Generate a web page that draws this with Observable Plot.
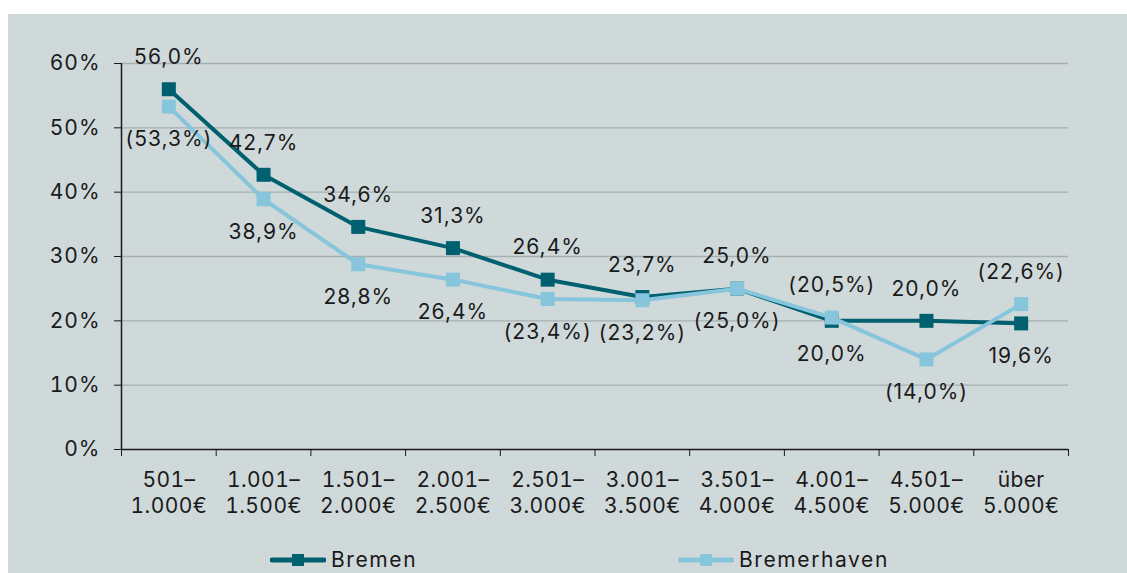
<!DOCTYPE html>
<html>
<head>
<meta charset="utf-8">
<script src="https://cdn.jsdelivr.net/npm/d3@7"></script>
<script src="https://cdn.jsdelivr.net/npm/@observablehq/plot@0.6"></script>
<style>
  html, body { margin: 0; padding: 0; background: #ffffff; }
  #panel {
    position: absolute; left: 8px; top: 14px;
    width: 1119px; height: 559px;
    background: #d0d9da;
    font-family: Inter, "Noto Sans", sans-serif;
    color: #1a1a1a;
    overflow: hidden;
  }
  #chart svg { display: block; }
  #chart svg text { letter-spacing: 1px; }
  #chart svg g[aria-label="x-axis tick label"] text { letter-spacing: 0.4px; }
  .legend-item {
    position: absolute; top: 537px;
    display: flex; align-items: center;
    font-size: 21px; line-height: 18px; letter-spacing: 1.6px;
  }
  .legend-item svg { margin-right: 5px; }
</style>
</head>
<body>
<div id="panel">
  <div id="chart"></div>
  <div class="legend-item" id="lg-bremen"></div>
  <div class="legend-item" id="lg-bremerhaven"></div>
</div>
<script>
// Income brackets (net household income per month)
const categories = [
  "501–\n1.000€", "1.001–\n1.500€", "1.501–\n2.000€", "2.001–\n2.500€", "2.501–\n3.000€",
  "3.001–\n3.500€", "3.501–\n4.000€", "4.001–\n4.500€", "4.501–\n5.000€", "über\n5.000€"
];

// Shares in percent
const bremen      = [56.0, 42.7, 34.6, 31.3, 26.4, 23.7, 25.0, 20.0, 20.0, 19.6];
const bremerhaven = [53.3, 38.9, 28.8, 26.4, 23.4, 23.2, 25.0, 20.5, 14.0, 22.6];

// Value labels as printed, and whether each sits above or below its point
const bremenLabels      = ["56,0%", "42,7%", "34,6%", "31,3%", "26,4%", "23,7%", "25,0%", "20,0%", "20,0%", "19,6%"];
const bremenSide        = ["above", "above", "above", "above", "above", "above", "above", "below", "above", "below"];
const bremerhavenLabels = ["(53,3%)", "38,9%", "28,8%", "26,4%", "(23,4%)", "(23,2%)", "(25,0%)", "(20,5%)", "(14,0%)", "(22,6%)"];
const bremerhavenSide   = ["below", "below", "below", "below", "below", "below", "below", "above", "below", "above"];

const yTicks = [0, 10, 20, 30, 40, 50, 60];

const colBremen = "#00606f";
const colBremerhaven = "#86c5dc";

const toRows = (values, labels, side, series) =>
  values.map((v, i) => ({ i, pos: i + 0.5, value: v, label: labels[i], side: side[i], series }));

const rowsBremen = toRows(bremen, bremenLabels, bremenSide, "Bremen");
const rowsBremerhaven = toRows(bremerhaven, bremerhavenLabels, bremerhavenSide, "Bremerhaven");

const fontSize = 21;
const markR = 7.9; // square of about 14px side

const labelMarks = (rows) => [
  Plot.text(rows.filter(d => d.side === "above"), {
    x: "pos", y: "value", text: "label", dy: -32, fontSize, fill: "#1a1a1a"
  }),
  Plot.text(rows.filter(d => d.side === "below"), {
    x: "pos", y: "value", text: "label", dy: 33, fontSize, fill: "#1a1a1a"
  })
];

const chart = Plot.plot({
  width: 1119,
  height: 530,
  marginLeft: 113,
  marginRight: 59,
  marginTop: 49,
  marginBottom: 95,
  style: { background: "transparent", fontFamily: "Inter, 'Noto Sans', sans-serif", fontSize: fontSize + "px", color: "#1a1a1a" },
  x: { type: "linear", domain: [0, categories.length], label: null },
  y: { domain: [0, 60], label: null },
  marks: [
    Plot.gridY(yTicks.filter(t => t > 0), { stroke: "#a6afb0", strokeOpacity: 1, strokeWidth: 1.4 }),
    Plot.axisY(yTicks, {
      tickSize: 7, tickPadding: 14, fontSize, label: null,
      tickFormat: d => d + "%", stroke: "#1a1a1a"
    }),
    // category boundaries: tick marks only
    Plot.axisX(d3.range(categories.length + 1), {
      tickSize: 7, tickFormat: () => "", stroke: "#1a1a1a", label: null
    }),
    // category names centred in each interval
    Plot.axisX(d3.range(categories.length).map(i => i + 0.5), {
      tickSize: 0, tickPadding: 20, fontSize, lineHeight: 1.2, label: null,
      tickFormat: d => categories[Math.floor(d)]
    }),
    Plot.ruleY([0], { stroke: "#1a1a1a", strokeWidth: 1.5 }),
    Plot.ruleX([0], { stroke: "#1a1a1a", strokeWidth: 1.5 }),

    Plot.line(rowsBremen, { x: "pos", y: "value", stroke: colBremen, strokeWidth: 4 }),
    Plot.dot(rowsBremen, { x: "pos", y: "value", symbol: "square", r: markR, fill: colBremen }),
    Plot.line(rowsBremerhaven, { x: "pos", y: "value", stroke: colBremerhaven, strokeWidth: 4 }),
    Plot.dot(rowsBremerhaven, { x: "pos", y: "value", symbol: "square", r: markR, fill: colBremerhaven }),

    ...labelMarks(rowsBremen),
    ...labelMarks(rowsBremerhaven)
  ]
});
document.getElementById("chart").appendChild(chart);

// Legend entries: line with square marker, then series name
function swatch(color) {
  return `<svg width="56" height="14" viewBox="0 0 56 14">
    <line x1="2" x2="54" y1="7" y2="7" stroke="${color}" stroke-width="5" stroke-linecap="round"/>
    <rect x="22" y="1" width="12" height="12" fill="${color}"/>
  </svg>`;
}
const lgB = document.getElementById("lg-bremen");
lgB.style.left = "262px";
lgB.innerHTML = swatch(colBremen) + "<span>Bremen</span>";
const lgBh = document.getElementById("lg-bremerhaven");
lgBh.style.left = "670px";
lgBh.innerHTML = swatch(colBremerhaven) + "<span>Bremerhaven</span>";
</script>
</body>
</html>
